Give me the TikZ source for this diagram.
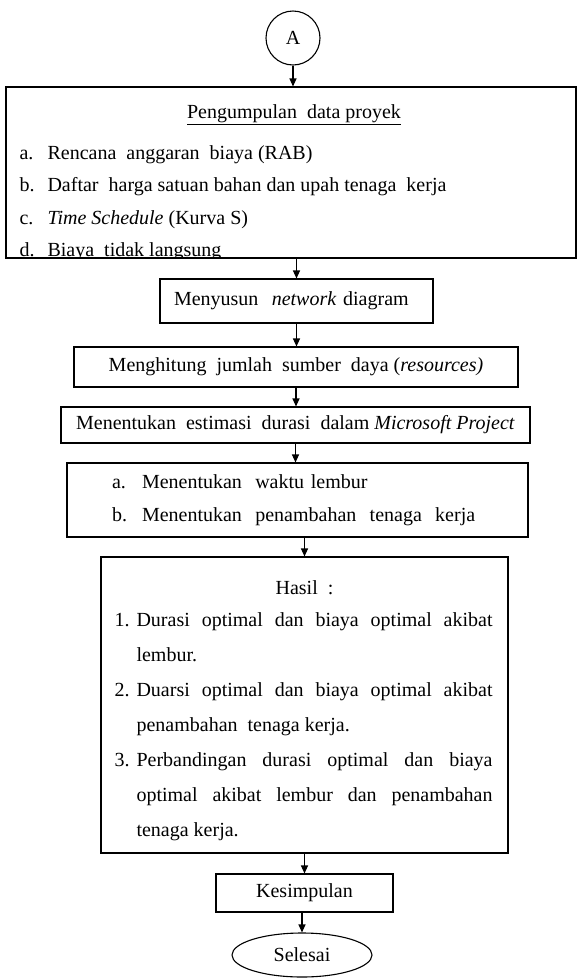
\documentclass[tikz,border=0pt]{standalone}
\usepackage{fontspec}
\setmainfont{Liberation Serif}
\usepackage{tikz}
\usetikzlibrary{arrows.meta,shapes.geometric}

\tikzset{
  box/.style={draw,rectangle,inner sep=0pt},
  txt/.style={font=\fontsize{20}{32.5}\selectfont}
}
\newcommand{\hasilrow}[2]{\makebox[22pt][l]{#1}\makebox[356pt][s]{#2}}
\newcommand{\hasilcont}[1]{\hspace*{22pt}#1}

\begin{document}
\begin{tikzpicture}[->,>={Triangle[length=8pt,width=7pt]},x=1pt,y=-1pt,line width=1.1pt,
  every node/.style={txt}]
  \useasboundingbox (0,0) rectangle (577,978);

  \node[circle,draw,minimum size=54pt,inner sep=0pt] (A) at (293,38) {A};

  % pengumpulan data
  \node[box,minimum width=570pt,minimum height=171pt] (data) at (291,172.5) {};
  \begin{scope}
    \clip (data.north west) rectangle (data.south east);
    \node[anchor=base,inner sep=0pt] (datatitle) at (294,118) {\underline{Pengumpulan~ data proyek}};
    \node[anchor=north west,align=left,inner sep=0pt] (datalist) at (19,145) {%
      \makebox[28pt][l]{a.}Rencana~ anggaran~ biaya (RAB)\\
      \makebox[28pt][l]{b.}Daftar~ harga satuan bahan dan upah tenaga~ kerja\\
      \makebox[28pt][l]{c.}\textit{Time Schedule} (Kurva S)\\
      \makebox[28pt][l]{d.}Biaya~ tidak langsung};
  \end{scope}

  \node[box,minimum width=273pt,minimum height=44pt,inner xsep=14pt,text width=245pt,align=left]
    (network) at (296.5,301) {Menyusun~ \textit{network} diagram};
  \node[box,minimum width=444pt,minimum height=40pt] (sumber) at (296,367)
    {Menghitung~ jumlah~ sumber~ daya (\textit{resources)}};
  \node[box,minimum width=469pt,minimum height=36pt] (durasi) at (295.5,425)
    {Menentukan~ estimasi~ durasi~ dalam \textit{Microsoft Project}};
  \node[box,minimum width=461pt,minimum height=74pt,inner xsep=45pt,text width=371pt,align=left,
    font=\fontsize{20}{33}\selectfont] (lembur) at (297.5,500) {%
      \makebox[30pt][l]{a.}Menentukan~ waktu lembur\\
      \makebox[30pt][l]{b.}Menentukan~ penambahan~ tenaga~ kerja};

  % hasil
  \node[box,minimum width=407pt,minimum height=296pt] (hasil) at (304.5,705) {};
  \node[anchor=base,inner sep=0pt] (hasiltitle) at (hasil.north |- 0,594) {Hasil~ :};
  \node[anchor=north west,align=left,inner sep=0pt,font=\fontsize{20}{35}\selectfont]
    (hasillist) at (114,612) {%
      \hasilrow{1.}{Durasi optimal dan biaya optimal akibat}\\
      \hasilcont{lembur.}\\
      \hasilrow{2.}{Duarsi optimal dan biaya optimal akibat}\\
      \hasilcont{penambahan~ tenaga kerja.}\\
      \hasilrow{3.}{Perbandingan durasi optimal dan biaya}\\
      \hasilcont{\makebox[356pt][s]{optimal akibat lembur dan penambahan}}\\
      \hasilcont{tenaga kerja.}};

  \node[box,minimum width=177pt,minimum height=38pt] (kesimpulan) at (304.5,893) {Kesimpulan};
  \node[ellipse,draw,minimum width=140pt,minimum height=44pt,inner sep=0pt] (selesai) at (302,955) {Selesai};

  \draw (A.south) -- (A.south |- data.north);
  \draw (network.north |- data.south) -- (network.north);
  \draw (network.south) -- (network.south |- sumber.north);
  \draw (sumber.south) -- (sumber.south |- durasi.north);
  \draw (durasi.south) -- (durasi.south |- lembur.north);
  \draw (hasil.north |- lembur.south) -- (hasil.north);
  \draw (kesimpulan.north |- hasil.south) -- (kesimpulan.north);
  \draw (selesai.north |- kesimpulan.south) -- (selesai.north);
\end{tikzpicture}
\end{document}
